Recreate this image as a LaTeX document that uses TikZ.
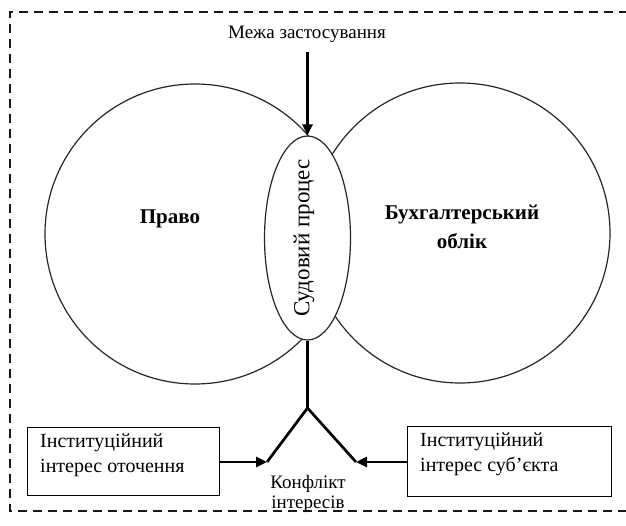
\documentclass[tikz,border=0pt]{standalone}
\usepackage{fontspec}
\setmainfont{Liberation Serif}
\usetikzlibrary{arrows.meta,shapes.geometric}
\begin{document}
\begin{tikzpicture}[x=1pt,y=-1pt,
  txt/.style={font=\fontsize{19}{21}\selectfont, inner sep=0pt},
  boxtxt/.style={font=\fontsize{20}{25}\selectfont, inner sep=0pt, anchor=north west, align=left},
  boldtxt/.style={font=\fontsize{21}{29}\selectfont\bfseries, align=center, inner sep=0pt},
  ring/.style={circle, draw=black!85, line width=1.2pt, minimum size=300pt, inner sep=0pt},
  frame/.style={draw=black!90, line width=2.5pt, dash pattern=on 9pt off 6pt},
  thickline/.style={line width=2.7pt},
  tipped/.style={-{Triangle[length=11pt,width=10pt]}},
  boxstyle/.style={draw, line width=1pt, inner sep=0pt}]
\useasboundingbox (0,0) rectangle (626,526);

% dashed frame (right side lies outside the picture)
\coordinate (ftr) at (628,12);
\coordinate (ftl) at (10,12);
\coordinate (fbl) at (10,511);
\coordinate (fbr) at (628,511);
\draw[frame] (ftr) -- (ftl) -- (fbl) -- (fbr);

% circles
\node[ring] (pravo) at (195,234) {};
\node[ring] (oblik) at (460,233) {};
\node[boldtxt] (pravotxt) at (170,219) {Право};
\node[boldtxt] (obliktxt) at (462,227) {Бухгалтерський\\облік};

% ellipse
\node[ellipse, draw=black!85, line width=1.2pt, fill=white, minimum width=86pt, minimum height=204pt, inner sep=0pt] (sud) at (307.5,238) {};
\node[inner sep=0pt, font=\fontsize{23}{25}\selectfont, rotate=90] (sudtxt) at (304,238) {Судовий процес};

% top label and arrow
\node[txt] (meja) at (307,34) {Межа застосування};
\coordinate (atop) at (307.5,52);
\draw[thickline, tipped] (atop) -- (sud.north);

% bottom fork
\coordinate (j) at (307.5,408);
\coordinate (la) at (267,462);
\coordinate (ra) at (356,462);
\draw[thickline] (sud.south) -- (j);
\draw[thickline, line join=miter] (la) -- (j) -- (ra);

% boxes
\node[boxstyle, minimum width=192pt, minimum height=68pt] (lbox) at (123,461) {};
\node[boxtxt] (lboxtxt) at (40,434) {Інституційний\\інтерес оточення};
\node[boxstyle, minimum width=204pt, minimum height=70pt] (rbox) at (509,461) {};
\node[boxtxt] (rboxtxt) at (420,433) {Інституційний\\інтерес суб’єкта};

\draw[thickline, tipped] (lbox.east |- la) -- (la);
\draw[thickline, tipped] (rbox.west |- ra) -- (ra);

\node[txt, align=center, font=\fontsize{19}{20.5}\selectfont] (konf) at (308,494) {Конфлікт\\інтересів};
\end{tikzpicture}
\end{document}
